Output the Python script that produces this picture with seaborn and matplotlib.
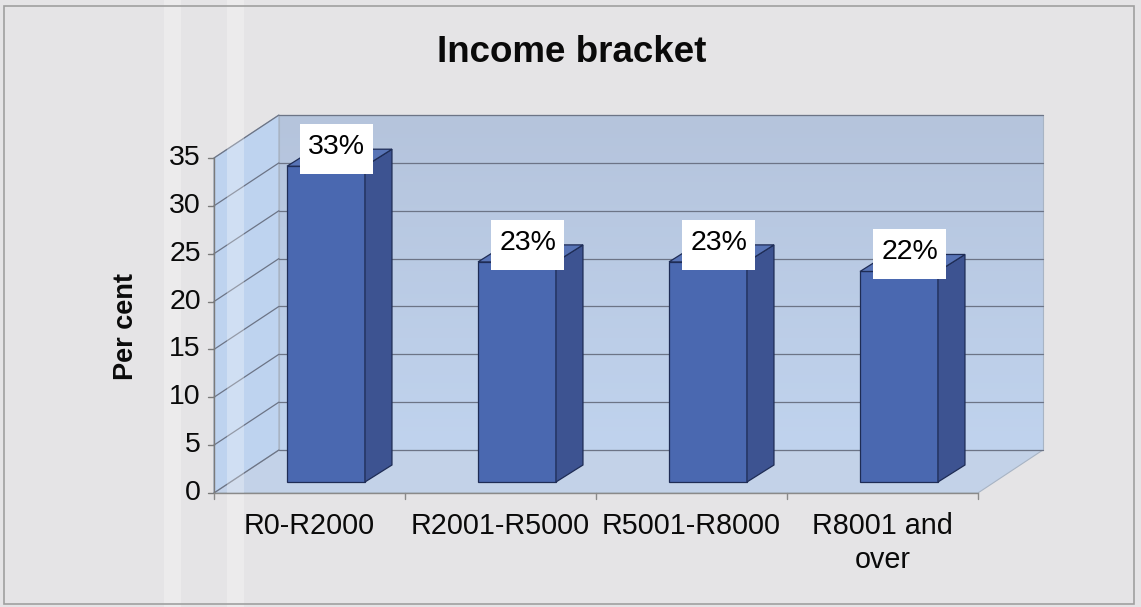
import matplotlib
matplotlib.use("Agg")
import numpy as np
import pandas as pd
import matplotlib.pyplot as plt
from matplotlib.patches import Polygon, Rectangle
import seaborn as sns

# ---- chart data -------------------------------------------------------------
categories = ["R0-R2000", "R2001-R5000", "R5001-R8000", "R8001 and\nover"]
percent = [33, 23, 23, 22]
y_ticks = [0, 5, 10, 15, 20, 25, 30, 35]
title = "Income bracket"
y_label = "Per cent"

# ---- canvas / projection setup ---------------------------------------------
W, H, DPI = 1141, 607, 100
PX_X = 191.0     # pixels per category step
PX_Y = 9.57      # pixels per percentage point
X0_PX = 326.0    # pixel x of first bar centre
Y0_PX = 482.0    # pixel y (from top) of the bar base plane


def px(dx, dy):
    """Convert a pixel offset (dy downward) into data units."""
    return dx / PX_X, -dy / PX_Y


FX, FY = px(-16.6, 11)     # bar plane -> front plane
DX, DY = px(65, -43)       # front plane -> back wall
BX, BY = px(27, -17)       # bar depth

sns.set_theme(style="white")
plt.rcParams["font.family"] = ["Liberation Sans", "DejaVu Sans"]

fig = plt.figure(figsize=(W / DPI, H / DPI), dpi=DPI)
fig.patch.set_facecolor("#e5e4e6")
ax = fig.add_axes([0, 0, 1, 1])
ax.set_facecolor("none")

XLIM = (-X0_PX / PX_X, (W - X0_PX) / PX_X)
YLIM = ((Y0_PX - H) / PX_Y, Y0_PX / PX_Y)

ymax = y_ticks[-1]
fx0, fx1 = -0.5 + FX, len(categories) - 0.5 + FX
fy0, fy1 = FY, ymax + FY

# ---- bars (front faces) -----------------------------------------------------
df = pd.DataFrame({"bracket": categories, "percent": percent})
sns.barplot(data=df, x="bracket", y="percent", order=categories, width=0.408,
            color="#4a68b0", saturation=1, edgecolor="#1e2c55", linewidth=0.9,
            ax=ax, zorder=3)
bar_patches = list(ax.patches)

# ---- walls ------------------------------------------------------------------
floor = Polygon([(fx0, fy0), (fx1, fy0), (fx1 + DX, fy0 + DY), (fx0 + DX, fy0 + DY)],
                closed=True, fc="#c3d2e8", ec="#a8b4c4", lw=0.8, zorder=1)
ax.add_patch(floor)
left_wall = Polygon([(fx0, fy0), (fx0, fy1), (fx0 + DX, fy1 + DY), (fx0 + DX, fy0 + DY)],
                    closed=True, fc="#bed3ef", ec="#a8b4c4", lw=0.8, zorder=1)
ax.add_patch(left_wall)

grad = np.linspace(0, 1, 256).reshape(-1, 1)
cmap = matplotlib.colors.LinearSegmentedColormap.from_list("wall", ["#b5c4dc", "#c0d3ee"])
ax.imshow(grad, cmap=cmap, aspect="auto", origin="upper",
          extent=(fx0 + DX, fx1 + DX, fy0 + DY, fy1 + DY), zorder=1)
ax.add_patch(Rectangle((fx0 + DX, fy0 + DY), fx1 - fx0, fy1 - fy0,
                       fill=False, ec="#a8b4c4", lw=0.8, zorder=1.5))

# gridlines on back and left walls
for t in y_ticks:
    ax.plot([fx0 + DX, fx1 + DX], [t + FY + DY] * 2, color="#6c7486", lw=0.9, zorder=1.6)
    ax.plot([fx0, fx0 + DX], [t + FY, t + FY + DY], color="#6c7486", lw=0.9, zorder=1.6)

# faint light streaks across the page (behind bars and text)
for x0, x1 in [(164, 181), (227, 244)]:
    ax.axvspan(px(x0 - X0_PX, 0)[0], px(x1 - X0_PX, 0)[0], fc="white", ec="none",
               alpha=0.28, zorder=1.7)

# ---- bar sides, tops and value labels --------------------------------------
box_w, box_h = px(73, -50)
for patch, val in zip(bar_patches, percent):
    x, w, h = patch.get_x(), patch.get_width(), patch.get_height()
    side = Polygon([(x + w, 0), (x + w + BX, BY), (x + w + BX, h + BY), (x + w, h)],
                   closed=True, fc="#3d5391", ec="#1e2c55", lw=0.9, zorder=3)
    top = Polygon([(x, h), (x + w, h), (x + w + BX, h + BY), (x + BX, h + BY)],
                  closed=True, fc="#5874b6", ec="#1e2c55", lw=0.9, zorder=3)
    ax.add_patch(side)
    ax.add_patch(top)
    cx, cy = x + w / 2 + 0.057, h + 1.78
    ax.add_patch(Rectangle((cx - box_w / 2, cy - box_h / 2), box_w, box_h,
                           fc="white", ec="none", zorder=5))
    ax.text(cx, cy + px(0, -2)[1], f"{val}%", ha="center", va="center",
            fontsize=20.5, color="black", zorder=6)

# ---- axes lines, ticks, labels ---------------------------------------------
ax.plot([fx0, fx0], [fy0, fy1], color="#7a7a7a", lw=1.0, zorder=2)
ax.plot([fx0, fx1], [fy0, fy0], color="#8a8a8a", lw=1.0, zorder=2)
tick_len_x, _ = px(6, 0)
_, tick_len_y = px(0, 6)
for t in y_ticks:
    ax.plot([fx0 - tick_len_x, fx0], [t + FY] * 2, color="#7a7a7a", lw=1.0, zorder=2)
    ax.text(fx0 - px(13, 0)[0], t + FY, str(t), ha="right", va="center",
            fontsize=20.5, color="#0a0a0a", zorder=6)
for b in range(len(categories) + 1):
    xb = b - 0.5 + FX
    ax.plot([xb, xb], [fy0, fy0 + tick_len_y], color="#8a8a8a", lw=1.0, zorder=2)
for i, c in enumerate(categories):
    ax.text(i + FX, fy0 + px(0, 19)[1], c, ha="center", va="top", fontsize=20.7,
            linespacing=1.25, color="#0a0a0a", zorder=6)

ax.set_xlabel("")
ax.set_ylabel("")
ax.set_xticks([])
ax.set_yticks([])
for s in ax.spines.values():
    s.set_visible(False)
ax.set_xlim(*XLIM)
ax.set_ylim(*YLIM)

fig.text(572 / W, 1 - 52 / H, title, ha="center", va="center",
         fontsize=26.5, fontweight="bold", color="#0a0a0a")
fig.text(126 / W, 1 - 326 / H, y_label, ha="center", va="center", rotation=90,
         fontsize=19.5, fontweight="bold", color="#0a0a0a")

# outer frame
fig.patches.append(Rectangle((4 / W, 1 - 604 / H), 1130 / W, 598 / H, transform=fig.transFigure,
                             fill=False, ec="#a0a0a0", lw=1.2, zorder=10))

fig.savefig("out.png", dpi=DPI, facecolor=fig.get_facecolor())
